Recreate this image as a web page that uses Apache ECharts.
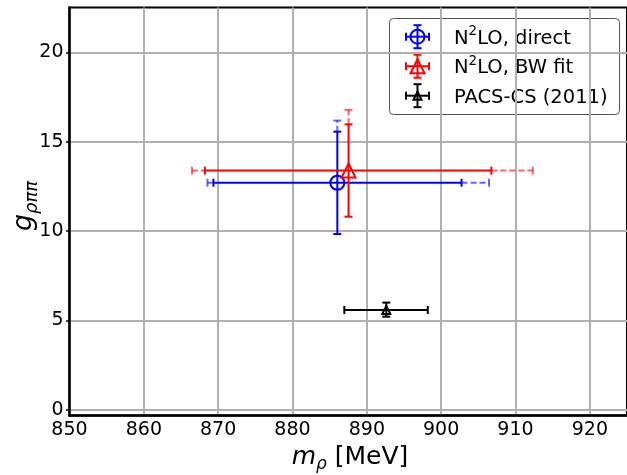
<!DOCTYPE html>
<html><head><meta charset="utf-8">
<script src="https://cdn.jsdelivr.net/npm/echarts@6/dist/echarts.min.js"></script>
<style>html,body{margin:0;padding:0;background:#fff}#c{width:627px;height:475px}</style>
</head><body><div id="c"></div>
<script>
// ---- data ----
const seriesNames = ['N²LO, direct', 'N²LO, BW fit', 'PACS-CS (2011)'];
const mRho        = [886.03, 887.54, 892.62];
const gRhoPiPi    = [12.70, 13.38, 5.58];
const mRhoLow     = [869.36, 868.21, 886.97];
const mRhoHigh    = [902.74, 906.75, 898.20];
const gLow        = [9.83, 10.80, 5.20];
const gHigh       = [15.56, 15.97, 5.99];
const mRhoLowSys  = [868.56, 866.47, null];
const mRhoHighSys = [906.44, 912.33, null];
const gHighSys    = [16.18, 16.78, null];
const xTicks = [850, 860, 870, 880, 890, 900, 910, 920];
const yTicks = [0, 5, 10, 15, 20];

// ---- styles ----
const colors = ['#0000ff', '#ff0000', '#000000'];
const lightColors = ['rgba(0,0,255,0.6)', 'rgba(255,0,0,0.6)', 'rgba(0,0,0,0.6)'];
const markers = ['circle', 'triangle', 'smalltriangle'];
const FONT = 'DejaVu Sans';

function markerShape(kind, cx, cy, color) {
  if (kind === 'circle') {
    return {type: 'circle', shape: {cx: cx, cy: cy, r: 7}, style: {fill: 'none', stroke: color, lineWidth: 2}};
  }
  const r = kind === 'triangle' ? 7 : 4;
  return {type: 'polygon', shape: {points: [[cx, cy - r], [cx - r, cy + r], [cx + r, cy + r]]},
          style: {fill: 'none', stroke: color, lineWidth: 2}};
}
function seg(x1, y1, x2, y2, color, dash) {
  return {type: 'line', shape: {x1: x1, y1: y1, x2: x2, y2: y2},
          style: {stroke: color, lineWidth: 2, lineDash: dash ? [6, 3] : null}};
}

function makeRender(k) {
  return function (params, api) {
    const x = api.value(0), y = api.value(1);
    const c = api.coord([x, y]);
    const xl = api.coord([mRhoLow[k], y])[0], xh = api.coord([mRhoHigh[k], y])[0];
    const yl = api.coord([x, gLow[k]])[1], yh = api.coord([x, gHigh[k]])[1];
    const col = colors[k], lc = lightColors[k];
    const cap = 4;
    const ch = [];
    if (mRhoLowSys[k] != null) {
      const xlD = api.coord([mRhoLowSys[k], y])[0], xhD = api.coord([mRhoHighSys[k], y])[0];
      const yhD = api.coord([x, gHighSys[k]])[1];
      ch.push(seg(xlD, c[1], xl, c[1], lc, true));
      ch.push(seg(xh, c[1], xhD, c[1], lc, true));
      ch.push(seg(xlD, c[1] - cap, xlD, c[1] + cap, lc, false));
      ch.push(seg(xhD, c[1] - cap, xhD, c[1] + cap, lc, false));
      ch.push(seg(c[0], yh, c[0], yhD, lc, true));
      ch.push(seg(c[0] - cap, yhD, c[0] + cap, yhD, lc, false));
    }
    ch.push(seg(xl, c[1], xh, c[1], col, false));
    ch.push(seg(xl, c[1] - cap, xl, c[1] + cap, col, false));
    ch.push(seg(xh, c[1] - cap, xh, c[1] + cap, col, false));
    ch.push(seg(c[0], yl, c[0], yh, col, false));
    ch.push(seg(c[0] - cap, yl, c[0] + cap, yl, col, false));
    ch.push(seg(c[0] - cap, yh, c[0] + cap, yh, col, false));
    ch.push(markerShape(markers[k], c[0], c[1], col));
    return {type: 'group', children: ch};
  };
}

const series = seriesNames.map(function (name, k) {
  return {
    type: 'custom', name: name, renderItem: makeRender(k),
    data: [[mRho[k], gRhoPiPi[k]]], clip: false, z: 10 + k,
    encode: {x: 0, y: 1}
  };
});

// legend (graphic)
const legendChildren = [{
  type: 'rect', shape: {x: 389.5, y: 18.5, width: 230, height: 96, r: 4},
  style: {fill: 'rgba(255,255,255,0.8)', stroke: '#555', lineWidth: 1}
}];
const legendTexts = ['{t|N}{s|2}{t|LO, direct}', '{t|N}{s|2}{t|LO, BW fit}', '{t|PACS-CS (2011)}'];
seriesNames.forEach(function (name, k) {
  const cy = 36.7 + k * 29.5, cx = 417.5, col = colors[k];
  const hw = 11.5, hh = 11.5, cap = 4;
  legendChildren.push(seg(cx - hw, cy, cx + hw, cy, col, false));
  legendChildren.push(seg(cx - hw, cy - cap, cx - hw, cy + cap, col, false));
  legendChildren.push(seg(cx + hw, cy - cap, cx + hw, cy + cap, col, false));
  legendChildren.push(seg(cx, cy - hh, cx, cy + hh, col, false));
  legendChildren.push(seg(cx - cap, cy - hh, cx + cap, cy - hh, col, false));
  legendChildren.push(seg(cx - cap, cy + hh, cx + cap, cy + hh, col, false));
  legendChildren.push(markerShape(markers[k], cx, cy, col));
  legendChildren.push({
    type: 'text', x: 454, y: cy,
    style: {text: legendTexts[k], verticalAlign: 'middle', align: 'left',
      rich: {t: {fontSize: 19.5, fontFamily: FONT, fill: '#000', lineHeight: 24, verticalAlign: 'bottom'},
             s: {fontSize: 13.5, fontFamily: FONT, fill: '#000', lineHeight: 24, verticalAlign: 'top'}}}
  });
});

const chart = echarts.init(document.getElementById('c'), null, {renderer: 'canvas'});
chart.setOption({
  animation: false,
  backgroundColor: '#fff',
  grid: {left: 69.5, top: 7.5, width: 561, height: 408, show: true, borderColor: '#000', borderWidth: 2, containLabel: false},
  xAxis: {
    type: 'value', min: 850, max: 925, interval: 10,
    axisLine: {show: true, onZero: false, lineStyle: {color: '#000', width: 2.5}},
    axisTick: {show: false, customValues: xTicks},
    axisLabel: {show: true, fontSize: 19, fontFamily: FONT, color: '#000', margin: 5, customValues: xTicks},
    splitLine: {show: true, lineStyle: {color: '#b0b0b0', width: 2}}
  },
  yAxis: {
    type: 'value', min: -0.33, max: 22.51,
    axisLine: {show: true, onZero: false, lineStyle: {color: '#000', width: 2.5}},
    axisTick: {show: true, length: 3.5, lineStyle: {color: '#000', width: 1.5}, customValues: yTicks},
    axisLabel: {show: true, fontSize: 19, fontFamily: FONT, color: '#000', margin: 6, customValues: yTicks},
    splitLine: {show: true, lineStyle: {color: '#b0b0b0', width: 2}}
  },
  series: series,
  graphic: [
    {type: 'group', z: 100, children: legendChildren},
    {type: 'text', x: 350, y: 457, z: 100,
     style: {text: '{i|m}{s|ρ}{n| [MeV]}', align: 'center', verticalAlign: 'middle',
       rich: {i: {fontSize: 25, fontFamily: FONT, fontStyle: 'italic', fill: '#000', lineHeight: 32, verticalAlign: 'middle'},
              s: {fontSize: 17, fontFamily: FONT, fontStyle: 'italic', fill: '#000', lineHeight: 32, verticalAlign: 'bottom'},
              n: {fontSize: 25, fontFamily: FONT, fill: '#000', lineHeight: 32, verticalAlign: 'middle'}}}},
    {type: 'text', x: 24, y: 206, z: 100, rotation: Math.PI / 2,
     style: {text: '{i|g}{s|ρππ}', align: 'center', verticalAlign: 'middle',
       rich: {i: {fontSize: 27, fontFamily: FONT, fontStyle: 'italic', fill: '#000', lineHeight: 34, verticalAlign: 'middle'},
              s: {fontSize: 18, fontFamily: FONT, fontStyle: 'italic', fill: '#000', lineHeight: 34, verticalAlign: 'bottom'}}}}
  ]
});
</script>
</body></html>
